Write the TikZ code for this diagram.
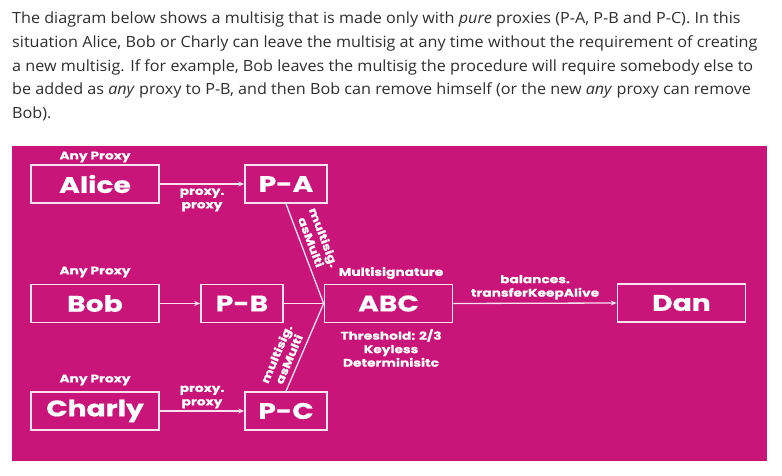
\documentclass[tikz,border=0pt]{standalone}
\usepackage{fontspec}
\setmainfont{Open Sans}[FakeStretch=1.05]
\newfontfamily\popfont{Poppins}[FakeStretch=1.25,BoldFeatures={FakeBold=0.5}]
\usetikzlibrary{arrows.meta}
\definecolor{mag}{HTML}{C9157A}
\definecolor{txt}{HTML}{2E2E2E}
\definecolor{wline}{HTML}{F9E3EF}
\begin{document}
\begin{tikzpicture}[x=1pt,y=-1pt,
  para/.style={anchor=base west,inner sep=0pt,text=txt,font=\fontsize{15.4}{18}\selectfont},
  bx/.style={draw=wline,line width=1.7pt,minimum width=128pt,minimum height=38pt,inner sep=0pt,text=white,font=\popfont\bfseries\fontsize{22.5}{24}\selectfont},
  sbx/.style={bx,minimum width=82pt},
  lbl/.style={text=white,inner sep=0pt,align=center,font=\popfont\bfseries\fontsize{11}{13.5}\selectfont},
  conn/.style={draw=wline,line width=1.3pt},
  arr/.style={conn,-{Stealth[length=6pt,width=5pt]}}]
\useasboundingbox (0,0) rectangle (782,476);
\fill[white] (0,0) rectangle (782,476);
% paragraph
\node[para] (l1) at (12,24) {The diagram below shows a multisig that is made only with \textit{pure} proxies (P-A, P-B and P-C). In this};
\node[para] (l2) at (12,48) {situation Alice, Bob or Charly can leave the multisig at any time without the requirement of creating};
\node[para] (l3) at (12,72) {a new multisig. If for example, Bob leaves the multisig the procedure will require somebody else to};
\node[para] (l4) at (12,95) {be added as \textit{any} proxy to P-B, and then Bob can remove himself (or the new \textit{any} proxy can remove};
\node[para] (l5) at (12,119) {Bob).};
% background
\fill[mag] (12,146) rectangle (767,461);
% boxes
\node[bx] (alice) at (95,184) {Alice};
\node[bx] (bob) at (95,303.5) {Bob};
\node[bx] (charly) at (95,411) {Charly};
\node[sbx] (pa) at (286,184) {P-A};
\node[sbx] (pb) at (242,303.5) {P-B};
\node[sbx] (pc) at (286,411) {P-C};
\node[bx] (abc) at (388.5,303.5) {ABC};
\node[bx] (dan) at (681.5,303) {Dan};
% labels
\node[lbl] (ap1) at (95,157) {Any Proxy};
\node[lbl] (ap2) at (95,272) {Any Proxy};
\node[lbl] (ap3) at (95,380) {Any Proxy};
\node[lbl] (msig) at (391,273) {Multisignature};
\node[lbl] (thr) at (391,348) {Threshold: 2/3\\Keyless\\Determinisitc};
% connectors
\draw[arr] (alice) -- node[lbl,below=4pt] {proxy.\\proxy} (pa);
\draw[arr] (bob) -- (pb);
\draw[arr] (charly) -- node[lbl,above=2pt] {proxy.\\proxy} (pc);
\coordinate (join) at (abc.west);
\draw[conn] (pa.south) -- node[lbl,sloped,above=5pt,pos=0.42] (m1) {multisig.\\asMulti} (join);
\draw[conn] (pb.east) -- (join);
\draw[conn] (pc.north) -- node[lbl,sloped,above=5pt,pos=0.32] (m2) {multisig.\\asMulti} (join);
\draw[arr] (abc.east) -- node[lbl,above=3pt] {balances.\\transferKeepAlive} (dan.west);
\end{tikzpicture}
\end{document}
